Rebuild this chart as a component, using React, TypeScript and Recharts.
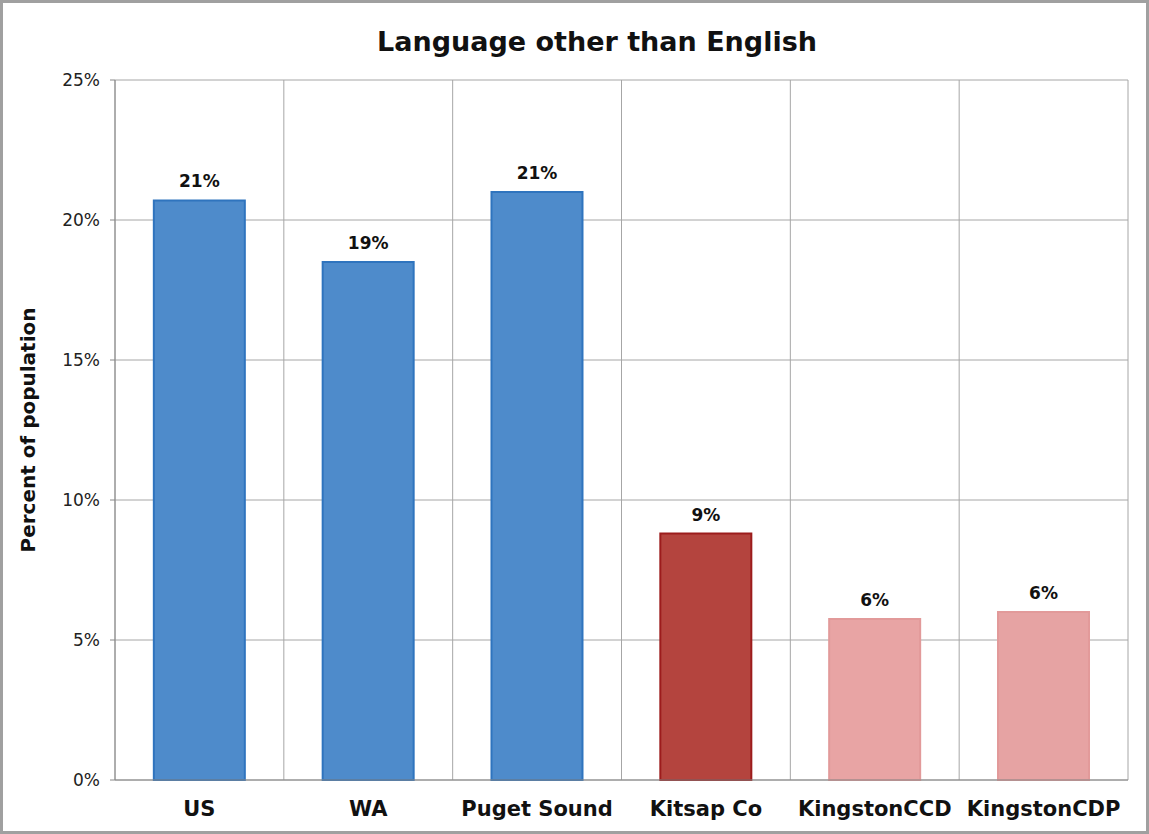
import React from 'react';
import { BarChart, Bar, XAxis, YAxis, CartesianGrid, LabelList, Cell } from 'recharts';

const regions = ['US', 'WA', 'Puget Sound', 'Kitsap Co', 'KingstonCCD', 'KingstonCDP'];
const shares = [20.7, 18.5, 21.0, 8.8, 5.75, 6.0];
const yTicks = [0, 5, 10, 15, 20, 25];

const fills = ['#4E8BCB', '#4E8BCB', '#4E8BCB', '#B4443E', '#E8A4A4', '#E6A3A3'];
const strokes = ['#2F74BE', '#2F74BE', '#2F74BE', '#9C1C1C', '#E29A9A', '#E29A9A'];

const data = regions.map((name, i) => ({ name, value: shares[i] }));

const FONT = '"DejaVu Sans", sans-serif';

const YLabel = (props: any) => {
  const vb = props.viewBox || { x: 0, y: 80, width: 115, height: 700 };
  const cx = vb.x + 35;
  const cy = vb.y + vb.height / 2;
  return (
    <text
      x={cx}
      y={cy}
      transform={`rotate(-90 ${cx} ${cy})`}
      textAnchor="middle"
      fontFamily={FONT}
      fontWeight="bold"
      fontSize={20}
      fill="#111"
    >
      Percent of population
    </text>
  );
};

export default function App() {
  return (
    <div style={{ position: 'absolute', left: 0, top: 0, width: 1149, height: 834, background: '#fff' }}>
      <div
        style={{
          position: 'absolute',
          left: 0,
          top: 26,
          width: 1149,
          textAlign: 'center',
          fontFamily: FONT,
          fontWeight: 'bold',
          fontSize: 27,
          color: '#111',
          paddingLeft: 45,
          boxSizing: 'border-box',
        }}
      >
        Language other than English
      </div>
      <BarChart
        width={1149}
        height={834}
        data={data}
        margin={{ top: 80, right: 21, left: 0, bottom: 24 }}
        barCategoryGap="23%"
      >
        <CartesianGrid
          stroke="#a6a6a6"
          verticalCoordinatesGenerator={({ offset }: any) =>
            regions.map((_, i) => offset.left + (i * offset.width) / regions.length).concat(offset.left + offset.width)
          }
        />
        <XAxis
          dataKey="name"
          height={30}
          tickSize={0}
          tickMargin={21}
          axisLine={{ stroke: '#888' }}
          tick={{ fontFamily: FONT, fontWeight: 'bold', fontSize: 21, fill: '#111' }}
        />
        <YAxis
          width={115}
          domain={[0, 25]}
          ticks={yTicks}
          tickFormatter={(v) => `${v}%`}
          tickSize={5}
          tickMargin={10}
          axisLine={{ stroke: '#888' }}
          tickLine={{ stroke: '#888' }}
          tick={{ fontFamily: FONT, fontSize: 17, fill: '#222' }}
          label={<YLabel />}
        />
        <Bar dataKey="value" isAnimationActive={false} strokeWidth={2}>
          {data.map((d, i) => (
            <Cell key={d.name} fill={fills[i]} stroke={strokes[i]} />
          ))}
          <LabelList
            dataKey="value"
            position="top"
            offset={13}
            formatter={(v: any) => `${Math.round(Number(v))}%`}
            style={{ fontFamily: FONT, fontWeight: 'bold', fontSize: 17, fill: '#111' }}
          />
        </Bar>
      </BarChart>
      <div
        style={{
          position: 'absolute',
          left: 0,
          top: 0,
          width: 1149,
          height: 834,
          border: '3px solid #a0a0a0',
          boxSizing: 'border-box',
          pointerEvents: 'none',
        }}
      />
    </div>
  );
}
